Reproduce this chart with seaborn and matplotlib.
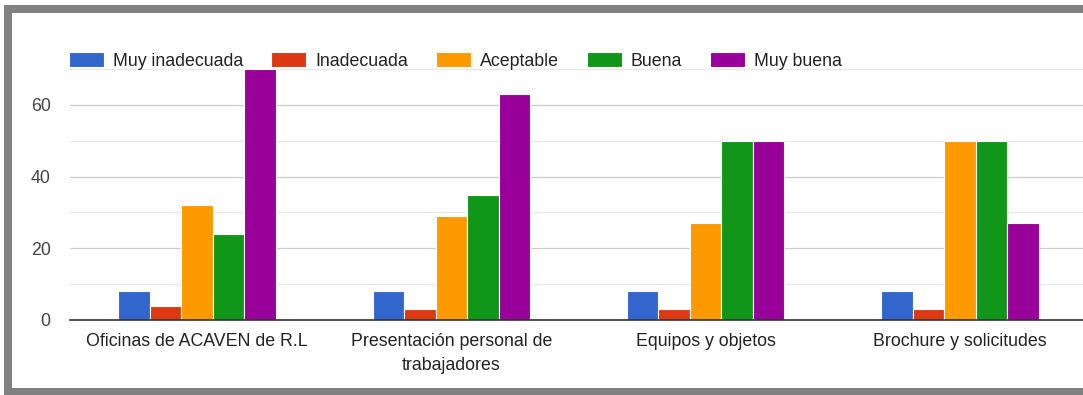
import matplotlib
matplotlib.use("Agg")
import matplotlib.pyplot as plt
from matplotlib.patches import Rectangle
import seaborn as sns
import pandas as pd

# Survey results per evaluated item
categories = [
    "Oficinas de ACAVEN de R.L",
    "Presentación personal de\ntrabajadores",
    "Equipos y objetos",
    "Brochure y solicitudes",
]
ratings = ["Muy inadecuada", "Inadecuada", "Aceptable", "Buena", "Muy buena"]
muy_inadecuada = [8, 8, 8, 8]
inadecuada = [4, 3, 3, 3]
aceptable = [32, 29, 27, 50]
buena = [24, 35, 50, 50]
muy_buena = [70, 63, 50, 27]
colors = ["#3366cc", "#dc3912", "#ff9900", "#109618", "#990099"]

series = [muy_inadecuada, inadecuada, aceptable, buena, muy_buena]
rows = []
for rating, values in zip(ratings, series):
    for cat, v in zip(categories, values):
        rows.append({"categoria": cat, "valoracion": rating, "cantidad": v})
df = pd.DataFrame(rows)

sns.set_style("white")
plt.rcParams["font.family"] = ["Liberation Sans", "DejaVu Sans"]

FS = 12.8
W, H = 1083, 395
fig = plt.figure(figsize=(W / 100, H / 100), dpi=100)
fig.patch.set_facecolor("white")

# Grey frame around the chart panel
fig.patches.append(Rectangle((4 / W, 0), 1.2, 390 / H, transform=fig.transFigure,
                             facecolor="#808080", edgecolor="none", zorder=-2))
fig.patches.append(Rectangle((12 / W, 7 / H), 1.2, 375 / H, transform=fig.transFigure,
                             facecolor="white", edgecolor="none", zorder=-1))

ax = fig.add_axes([70 / W, 75 / H, 1017 / W, 251 / H])
ax.set_facecolor("none")

sns.barplot(data=df, x="categoria", y="cantidad", hue="valoracion",
            order=categories, hue_order=ratings,
            palette=dict(zip(ratings, colors)), width=0.62,
            edgecolor="white", linewidth=0.8, saturation=1, ax=ax)

ax.set_ylim(0, 70)
ax.set_xlim(-0.5, 3.5)
ax.set_yticks([0, 20, 40, 60])
ax.set_yticks([10, 30, 50, 70], minor=True)
ax.grid(True, which="major", axis="y", color="#cccccc", linewidth=0.9)
ax.grid(True, which="minor", axis="y", color="#e8e8e8", linewidth=0.9)
ax.set_axisbelow(True)
ax.tick_params(axis="y", which="both", length=0, pad=14, labelsize=FS, labelcolor="#444444")
ax.tick_params(axis="x", length=0, pad=9.5, labelsize=FS, labelcolor="#222222")
for lbl in ax.get_xticklabels():
    lbl.set_linespacing(1.5)
ax.set_xlabel("")
ax.set_ylabel("")
for side in ["top", "right", "left"]:
    ax.spines[side].set_visible(False)
ax.spines["bottom"].set_color("#333333")
ax.spines["bottom"].set_linewidth(1.2)
ax.spines["bottom"].set_zorder(5)

handles, labels = ax.get_legend_handles_labels()
ax.legend(handles, labels, loc="center left", bbox_to_anchor=(69 / W, 334 / H),
          bbox_transform=fig.transFigure, ncol=5, frameon=False, borderpad=0,
          borderaxespad=0, fontsize=FS, handlelength=1.97, handleheight=0.9,
          handletextpad=0.5, columnspacing=1.58, labelcolor="#222222")

fig.savefig("out.png", dpi=100, facecolor="white")
